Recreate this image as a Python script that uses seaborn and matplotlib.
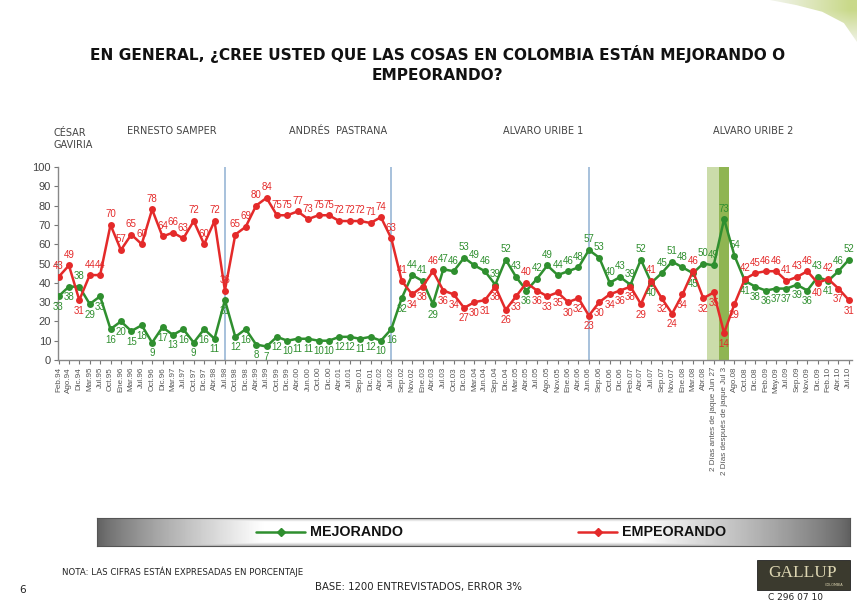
import numpy as np
import pandas as pd
import matplotlib
matplotlib.use("Agg")
import matplotlib.pyplot as plt
import seaborn as sns
from matplotlib.lines import Line2D
from matplotlib.patches import Rectangle, Polygon

# Periodos de medición (eje X)
periodos = [
    "Feb.94", "Ago.94", "Dic.94", "Mar.95", "Jul.95", "Oct.95", "Ene.96", "Mar.96",
    "Jul.96", "Oct.96", "Dic.96", "Mar.97", "Jul.97", "Oct.97", "Dic.97", "Abr.98",
    "Jul.98", "Oct.98", "Dic.98", "Abr.99", "Jul.99", "Oct.99", "Dic.99", "Abr.00",
    "Jun.00", "Oct.00", "Dic.00", "Abr.01", "Jul.01", "Sep.01", "Dic.01", "Abr.02",
    "Jul.02", "Sep.02", "Nov.02", "Ene.03", "Abr.03", "Jul.03", "Oct.03", "Dic.03",
    "Mar.04", "Jun.04", "Sep.04", "Dic.04", "Mar.05", "Abr.05", "Jul.05", "Ago.05",
    "Nov.05", "Ene.06", "Abr.06", "Jun.06", "Sep.06", "Oct.06", "Dic.06", "Feb.07",
    "Abr.07", "Jul.07", "Sep.07", "Nov.07", "Ene.08", "Mar.08", "Abr.08",
    "2 Días antes de jaque Jun 27", "2 Días después de jaque Jul 3",
    "Ago.08", "Oct.08", "Dic.08", "Feb.09", "May.09", "Jul.09", "Sep.09", "Nov.09",
    "Dic.09", "Feb.10", "Abr.10", "Jul.10",
]

mejorando = [
    33, 38, 38, 29, 33, 16, 20, 15, 18, 9, 17, 13, 16, 9, 16, 11, 31,
    12, 16, 8, 7, 12, 10, 11, 11, 10, 10, 12, 12, 11, 12, 10, 16,
    32, 44, 41, 29, 47, 46, 53, 49, 46, 39, 52, 43, 36, 42, 49, 44, 46, 48, 57,
    53, 40, 43, 39, 52, 40, 45, 51, 48, 45, 50, 49, 73,
    54, 41, 38, 36, 37, 37, 39, 36, 43, 41, 46, 52,
]

empeorando = [
    43, 49, 31, 44, 44, 70, 57, 65, 60, 78, 64, 66, 63, 72, 60, 72, 36,
    65, 69, 80, 84, 75, 75, 77, 73, 75, 75, 72, 72, 72, 71, 74, 63,
    41, 34, 38, 46, 36, 34, 27, 30, 31, 38, 26, 33, 40, 36, 33, 35, 30, 32, 23,
    30, 34, 36, 38, 29, 41, 32, 24, 34, 46, 32, 35, 14,
    29, 42, 45, 46, 46, 41, 43, 46, 40, 42, 37, 31,
]

cambios_gobierno = ["Jul.98", "Jul.02", "Jun.06"]
periodo_antes = "2 Días antes de jaque Jun 27"
periodo_despues = "2 Días después de jaque Jul 3"

titulo = "EN GENERAL, ¿CREE USTED QUE LAS COSAS EN COLOMBIA ESTÁN MEJORANDO O\nEMPEORANDO?"

VERDE = "#2f8f2f"
ROJO = "#e42a2a"
GRIS = "#444444"

sns.set_theme(style="white")
plt.rcParams["font.family"] = ["DejaVu Sans"]

W, H = 857, 604
fig = plt.figure(figsize=(W / 100, H / 100), dpi=100)
fig.patch.set_facecolor("white")


def fx(px):
    return px / W


def fy(py):
    return 1 - py / H


# Adorno verde claro en la esquina superior derecha
dax = fig.add_axes([fx(770), fy(42), fx(857) - fx(770), fy(0) - fy(42)])
gx = np.linspace(0, 1, 200)[None, :]
gy = np.linspace(0, 1, 60)[:, None]
deg = np.clip(gx * 1.2 - 0.1, 0, 1) * np.clip(gy * 1.3, 0, 1)
img = dax.imshow(deg, cmap=sns.light_palette("#c9d98a", as_cmap=True),
                 vmin=0, vmax=1, aspect="auto", extent=[0, 1, 0, 1],
                 origin="lower")
forma = Polygon([(0.0, 1.0), (1.0, 1.0), (1.0, 0.0), (0.85, 0.45),
                 (0.6, 0.72), (0.3, 0.88)], closed=True, transform=dax.transAxes)
img.set_clip_path(forma)
dax.axis("off")

n = len(periodos)
pos = list(range(n))
df = pd.DataFrame({
    "pos": pos * 2,
    "valor": mejorando + empeorando,
    "serie": ["MEJORANDO"] * n + ["EMPEORANDO"] * n,
})

ax = fig.add_axes([fx(58), fy(360), fx(852) - fx(58), fy(167) - fy(360)])

# Franjas del operativo Jaque y cambios de gobierno
i_antes = periodos.index(periodo_antes)
i_despues = periodos.index(periodo_despues)
ax.axvspan(i_antes - 0.65, i_antes + 0.5, color="#cbdcaa", zorder=0, lw=0)
ax.axvspan(i_despues - 0.5, i_despues + 0.5, color="#8fb552", zorder=0, lw=0)
for p in cambios_gobierno:
    ax.axvline(periodos.index(p), color="#8fb0d2", lw=1.1, zorder=1)

sns.lineplot(
    data=df, x="pos", y="valor", hue="serie",
    palette={"MEJORANDO": VERDE, "EMPEORANDO": ROJO},
    marker="o", markersize=5, markeredgewidth=0, linewidth=1.8,
    legend=False, ax=ax, zorder=3,
)

# Etiquetas de valor: la serie superior arriba, la inferior abajo
for i, (m, e) in enumerate(zip(mejorando, empeorando)):
    m_arriba = m > e
    ax.annotate(str(m), (i, m), xytext=(0, 4 if m_arriba else -4),
                textcoords="offset points", ha="center",
                va="bottom" if m_arriba else "top",
                fontsize=7, color=VERDE, family="Liberation Sans", zorder=4)
    ax.annotate(str(e), (i, e), xytext=(0, -4 if m_arriba else 4),
                textcoords="offset points", ha="center",
                va="top" if m_arriba else "bottom",
                fontsize=7, color=ROJO, family="Liberation Sans", zorder=4)

ax.set_xlim(-0.05, n - 0.7)
ax.set_ylim(0, 100)
ax.set_yticks(range(0, 101, 10))
ax.set_xticks(pos)
ax.set_xticklabels(periodos, rotation=90, fontsize=5.8, color="#555555",
                   family="Liberation Sans")
ax.set_yticklabels([str(v) for v in range(0, 101, 10)], fontsize=8,
                   color=GRIS, family="Liberation Sans")
ax.set_xlabel("")
ax.set_ylabel("")
ax.tick_params(axis="both", bottom=True, left=True, direction="out",
               length=3, width=0.8, color="#777777", pad=2)
sns.despine(ax=ax)
for s in ("left", "bottom"):
    ax.spines[s].set_color("#888888")
    ax.spines[s].set_linewidth(1.0)
ax.set_facecolor("none")

# Título
fig.text(0.511, fy(64), titulo, ha="center", va="center", fontsize=11.1,
         fontweight="bold", color="#111111", linespacing=1.4)

# Nombres de presidentes
pres_kw = dict(fontsize=7, color=GRIS, va="center")
fig.text(fx(53), fy(139), "CÉSAR\nGAVIRIA", ha="left", linespacing=1.3, **pres_kw)
fig.text(fx(172), fy(131), "ERNESTO SAMPER", ha="center", **pres_kw)
fig.text(fx(338), fy(131), "ANDRÉS  PASTRANA", ha="center", **pres_kw)
fig.text(fx(543), fy(131), "ALVARO URIBE 1", ha="center", **pres_kw)
fig.text(fx(753), fy(131), "ALVARO URIBE 2", ha="center", **pres_kw)

# Caja de leyenda con degradado
lx0, lx1, ly0, ly1 = 97, 850, 518, 546
lax = fig.add_axes([fx(lx0), fy(ly1), fx(lx1) - fx(lx0), fy(ly0) - fy(ly1)])
t = np.linspace(0, 1, 400)
horiz = np.clip(np.minimum(t / 0.22, (1 - t) / 0.28), 0, 1)
v = np.linspace(0, 1, 40)[:, None]
vert = np.clip(np.minimum(v / 0.12, (1 - v) / 0.12), 0, 1)
luz = 0.38 + 0.62 * np.minimum(horiz[None, :] ** 0.8, 0.55 + 0.45 * vert)
lax.imshow(luz, cmap="gray", vmin=0, vmax=1, aspect="auto",
           extent=[0, 1, 0, 1], interpolation="bilinear")
lax.set_xlim(0, 1)
lax.set_ylim(0, 1)
lax.set_xticks([])
lax.set_yticks([])
for s in lax.spines.values():
    s.set_color("#555555")
    s.set_linewidth(0.8)


def lx(px):
    return (px - lx0) / (lx1 - lx0)


lax.add_line(Line2D([lx(256), lx(305)], [0.5, 0.5], color=VERDE, lw=1.8))
lax.plot([(lx(256) + lx(305)) / 2], [0.5], marker="D", color=VERDE, ms=3.8)
lax.text(lx(310), 0.5, "MEJORANDO", ha="left", va="center", fontsize=10.3,
         fontweight="bold", color="#111111", family="Liberation Sans")
lax.add_line(Line2D([lx(578), lx(617)], [0.5, 0.5], color=ROJO, lw=1.8))
lax.plot([(lx(578) + lx(617)) / 2], [0.5], marker="D", color=ROJO, ms=3.8)
lax.text(lx(622), 0.5, "EMPEORANDO", ha="left", va="center", fontsize=10.3,
         fontweight="bold", color="#111111", family="Liberation Sans")

# Notas al pie
fig.text(fx(62), fy(572), "NOTA: LAS CIFRAS ESTÁN EXPRESADAS EN PORCENTAJE",
         ha="left", va="center", fontsize=6.2, color="#222222")
fig.text(fx(19), fy(590), "6", ha="left", va="center", fontsize=7.5,
         color="#222222")
fig.text(fx(315), fy(587), "BASE: 1200 ENTREVISTADOS, ERROR 3%",
         ha="left", va="center", fontsize=7.3, color="#222222")

# Logotipo
fig.patches.append(Rectangle((fx(757), fy(590)), fx(850) - fx(757),
                             fy(560) - fy(590), transform=fig.transFigure,
                             facecolor="#3b3a2e", edgecolor="#222222",
                             lw=0.6, zorder=5))
fig.text(fx(803), fy(573), "GALLUP", ha="center", va="center", fontsize=12.5,
         family="Liberation Serif", color="#ddd6b2", zorder=6)
fig.text(fx(834), fy(585), "COLOMBIA", ha="center", va="center", fontsize=2.5,
         color="#ddd6b2", zorder=6)
fig.text(fx(768), fy(598), "C 296 07 10", ha="left", va="center",
         fontsize=6.5, color="#222222")

fig.savefig("out.png", dpi=100, facecolor="white")
